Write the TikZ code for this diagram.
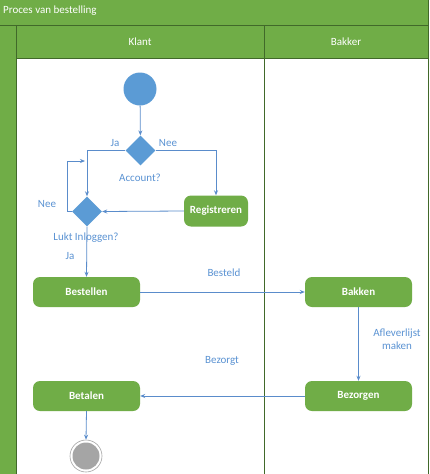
\documentclass[tikz,border=0pt]{standalone}
\usepackage{fontspec}
\setmainfont{Carlito}
\usetikzlibrary{arrows.meta,shapes.geometric}
\definecolor{lanegreen}{HTML}{70AD47}
\definecolor{darkgreen}{HTML}{41692A}
\definecolor{bluefill}{HTML}{5B9BD5}
\definecolor{lineblue}{HTML}{5A8CCB}
\definecolor{labelblue}{HTML}{5B93D3}
\definecolor{endgray}{HTML}{A5A5A5}
\tikzset{
  act/.style={rectangle, rounded corners=7pt, fill=lanegreen, draw=none, minimum width=107pt, minimum height=30pt, text=white, font=\fontsize{11}{12}\selectfont\bfseries, inner sep=0pt},
  dec/.style={diamond, fill=bluefill, draw=none, minimum width=30pt, minimum height=30pt, inner sep=0pt},
  conn/.style={draw=lineblue, line width=0.8pt, -{Stealth[length=5pt,width=4pt]}},
  lbl/.style={text=labelblue, font=\fontsize{11}{13}\selectfont, inner sep=0pt, align=center},
  hdr/.style={text=white, font=\fontsize{11}{12}\selectfont, inner sep=0pt},
  lane/.style={draw=darkgreen, line width=0.8pt}
}
\begin{document}
\begin{tikzpicture}[x=1pt,y=-1pt]
\useasboundingbox (0,0) rectangle (429,474);
% frame
\fill[white] (0,0) rectangle (429,474);
\fill[lanegreen] (0,0) rectangle (429,58);
\fill[lanegreen] (0,0) rectangle (16,474);
\draw[lane] (0,25) -- (429,25);
\draw[lane] (16,58) -- (429,58);
\draw[lane] (16,25) -- (16,474);
\draw[lane] (264,25) -- (264,474);
\draw[lane] (428.6,0) -- (428.6,474);
\node[hdr, anchor=west] (title) at (3,11) {Proces van bestelling};
\node[hdr] (klant) at (140,42) {Klant};
\node[hdr] (bakker) at (346,42) {Bakker};
% nodes
\node[circle, fill=bluefill, minimum size=33pt, inner sep=0pt] (start) at (140,89) {};
\node[dec] (acc) at (140.5,150.5) {};
\node[dec] (lukt) at (87,211.5) {};
\node[act, minimum width=64pt, minimum height=31pt] (reg) at (216,211) {Registreren};
\node[act] (best) at (86.5,292) {Bestellen};
\node[act] (bak) at (358.5,292) {Bakken};
\node[act] (bez) at (358.5,396) {Bezorgen};
\node[act] (bet) at (86.5,396) {Betalen};
\node[circle, draw=endgray, line width=0.6pt, fill=white, minimum size=32pt, inner sep=0pt] (end) at (86,456) {};
\node[circle, fill=endgray, minimum size=27pt, inner sep=0pt] (endin) at (86,456) {};
\coordinate (loopc) at (67,161);
% connectors
\draw[conn] (start) -- (acc);
\draw[conn] (acc.west) -| (lukt.north);
\draw[conn] (acc.east) -| (reg.north);
\draw[conn] (reg.west) -- (lukt.east);
\draw[conn] (lukt.west) -| (loopc) -- (85,161);
\draw[conn] (lukt.south) -- (best.north);
\draw[conn] (best.east) -- (bak.west);
\draw[conn] (bak.south) -- (bez.north);
\draw[conn] (bez.west) -- (bet.east);
\draw[conn] (bet.south) -- (end.north);
% labels
\node[lbl] (lja) at (115,143.5) {Ja};
\node[lbl] (lnee) at (168,143.5) {Nee};
\node[lbl] (lacc) at (140,177.5) {Account?};
\node[lbl] (lnee2) at (47,204.5) {Nee};
\node[lbl] (llukt) at (86,238) {Lukt Inloggen?};
\node[lbl] (lja2) at (70,256) {Ja};
\node[lbl] (lbest) at (224,272.5) {Besteld};
\node[lbl] (lafl) at (397,339.5) {Afleverlijst\\maken};
\node[lbl] (lbez) at (222,360.5) {Bezorgt};
\end{tikzpicture}
\end{document}
